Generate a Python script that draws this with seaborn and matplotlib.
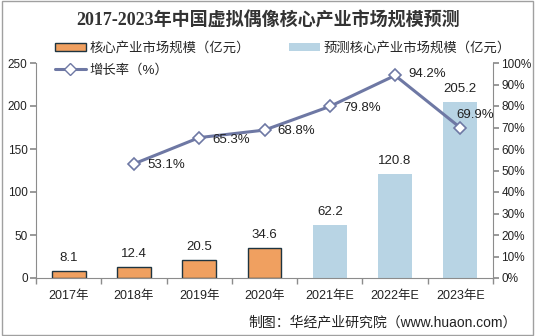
import matplotlib
matplotlib.use("Agg")
import matplotlib.pyplot as plt
import seaborn as sns
import pandas as pd
from matplotlib.patches import Patch, Rectangle
from matplotlib.lines import Line2D

categories = ["2017年", "2018年", "2019年", "2020年", "2021年E", "2022年E", "2023年E"]
market_size = [8.1, 12.4, 20.5, 34.6, 62.2, 120.8, 205.2]
is_forecast = [False, False, False, False, True, True, True]
growth_cats = ["2018年", "2019年", "2020年", "2021年E", "2022年E", "2023年E"]
growth_rate = [53.1, 65.3, 68.8, 79.8, 94.2, 69.9]

sns.set_theme(style="white")
plt.rcParams['font.family'] = ['Liberation Sans', 'Noto Sans CJK SC', 'DejaVu Sans']

orange = "#F0A060"
blue = "#B8D4E4"
line_c = "#6E78A4"
axis_c = "#8C8C8C"
edge_c = "#1E3440"

df = pd.DataFrame({"cat": categories, "val": market_size,
                   "kind": ["预测" if f else "实际" for f in is_forecast]})

fig = plt.figure(figsize=(5.35, 3.36), dpi=100)
ax = fig.add_axes([36/535, 1-278/336, (493-36)/535, (278-63)/336])

sns.barplot(data=df, x="cat", y="val", hue="kind", dodge=False,
            palette={"实际": orange, "预测": blue}, width=0.52,
            ax=ax, legend=False, saturation=1)
orange_rgba = matplotlib.colors.to_rgba(orange)
for p in ax.patches:
    fc = p.get_facecolor()
    if all(abs(a - b) < 0.02 for a, b in zip(fc[:3], orange_rgba[:3])):
        p.set_edgecolor(edge_c)
        p.set_linewidth(1.0)
    else:
        p.set_edgecolor("none")

ax.set_ylim(0, 250)
ax.set_xlim(-0.5, 6.5)
ax.set_yticks(range(0, 251, 50))
ax.set_xlabel("")
ax.set_ylabel("")
for i, v in enumerate(market_size):
    ax.text(i, v + 8, f"{v:.1f}", ha="center", va="bottom", fontsize=9.5, color="#222222")

ax2 = ax.twinx()
gdf = pd.DataFrame({"x": [categories.index(c) for c in growth_cats], "g": growth_rate})
sns.lineplot(data=gdf, x="x", y="g", ax=ax2, color=line_c, linewidth=2.2,
             marker="D", markersize=6, markerfacecolor="white",
             markeredgecolor=line_c, markeredgewidth=1.2)
ax2.set_ylim(0, 100)
ax2.set_yticks(range(0, 101, 10))
ax2.set_yticklabels([f"{t}%" for t in range(0, 101, 10)])
ax2.set_ylabel("")
ax2.set_xlabel("")
offsets = [(0.2, -0.5), (0.2, -1.0), (0.2, -0.5), (0.2, -0.5), (0.2, 0.5), (-0.06, 6.0)]
for x, g, (dx, dy) in zip(gdf["x"], growth_rate, offsets):
    ax2.text(x + dx, g + dy, f"{g:.1f}%", ha="left", va="center", fontsize=9.5, color="#222222")

for a in (ax, ax2):
    for s in a.spines.values():
        s.set_visible(False)
ax.spines["left"].set_visible(True)
ax.spines["bottom"].set_visible(True)
ax2.spines["right"].set_visible(True)
for s in (ax.spines["left"], ax.spines["bottom"], ax2.spines["right"]):
    s.set_color(axis_c)
    s.set_linewidth(0.8)

ax.tick_params(axis="y", which="both", left=True, length=4, color=axis_c, labelsize=8.5, labelcolor="#222222", pad=2)
ax.set_xticks(range(7))
ax.set_xticklabels(categories)
ax.tick_params(axis="x", which="major", bottom=False, labelsize=9, labelcolor="#222222", pad=3)
ax.set_xticks([i + 0.5 for i in range(-1, 7)], minor=True)
ax.tick_params(axis="x", which="minor", bottom=True, length=4, color=axis_c)
ax2.tick_params(axis="y", right=True, length=4, color=axis_c, labelsize=8.5, labelcolor="#222222", pad=2)
ax2.set_xlim(-0.5, 6.5)

fig.text(268/535, 1-21/336, "2017-2023年中国虚拟偶像核心产业市场规模预测", ha="center", va="center",
         fontsize=13, fontweight="bold", color="#333333",
         family=["Liberation Serif", "Noto Sans CJK SC"])

handles1 = [Patch(facecolor=orange, edgecolor=edge_c, linewidth=1.0),
            Patch(facecolor=blue, edgecolor="none")]
fig.legend(handles1, ["核心产业市场规模（亿元）", "预测核心产业市场规模（亿元）"],
           loc="center left", bbox_to_anchor=(55/535, 1-48/336), ncol=2, frameon=False,
           fontsize=9.6, handlelength=2.3, handleheight=0.55, columnspacing=2.9,
           handletextpad=0.3, borderpad=0, borderaxespad=0)
handles2 = [Line2D([0], [0], color=line_c, linewidth=2.2, marker="D", markersize=6,
                   markerfacecolor="white", markeredgecolor=line_c)]
fig.legend(handles2, ["增长率（%）"], loc="center left", bbox_to_anchor=(55/535, 1-70/336),
           frameon=False, fontsize=9.6, handlelength=2.3, handletextpad=0.3,
           borderpad=0, borderaxespad=0)

fig.text(517/535, 1-322/336, "制图：华经产业研究院（www.huaon.com）", ha="right", va="center",
         fontsize=10, color="#222222")

fig.patches.append(Rectangle((0.004, 0.004), 0.992, 0.992, transform=fig.transFigure,
                             fill=False, edgecolor="#A0A0A0", linewidth=1.0))

fig.savefig("out.png", dpi=100)
